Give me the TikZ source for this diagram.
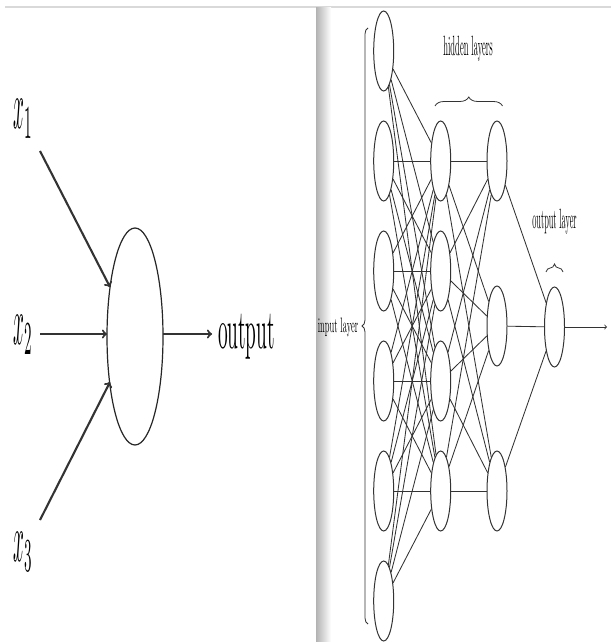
\documentclass[tikz,border=0pt]{standalone}
\usetikzlibrary{shapes.geometric,decorations.pathreplacing,arrows}
\begin{document}
\begin{tikzpicture}[x=1bp,y=-1bp,
  neuron/.style={ellipse,draw=black!80,line width=1bp,minimum width=20bp,minimum height=80bp,inner sep=0pt},
  bigcell/.style={ellipse,draw=black!85,line width=1.2bp,minimum width=56bp,minimum height=217bp,inner sep=0pt},
  edge/.style={draw=black!80,line width=0.85bp},
  thickarrow/.style={draw=black!80,line width=2.1bp,->,>=to},
  lbl/.style={inner sep=0pt},
  bracestyle/.style={draw=black!80,line width=0.8bp,decorate}]
\useasboundingbox[fill=white] (0,0) rectangle (611,642);
% frame details
\draw[black!15,line width=1.2bp] (5,7) -- (611,7);
\shade[left color=black!30,right color=white] (316,7.6) rectangle (331,642);
% ---------- left: perceptron ----------
\node[bigcell] (P) at (135,336.5) {};
\node[lbl] (X1) at (23,119) {\scalebox{1.9}[6.8]{$x_1$}};
\node[lbl] (X2) at (23,335) {\scalebox{1.9}[6.8]{$x_2$}};
\node[lbl] (X3) at (23,552) {\scalebox{1.9}[6.8]{$x_3$}};
\node[lbl] (OUT) at (246.5,337) {\scalebox{1.94}[5.6]{output}};
\coordinate (a1) at (40,151);
\coordinate (a2) at (40,334);
\coordinate (a3) at (40,520);
\coordinate (t1) at (110,287);
\coordinate (t2) at (107,334);
\coordinate (t3) at (110,382);
\coordinate (o1) at (163,334);
\coordinate (o2) at (212,334);
\draw[thickarrow] (a1) -- (t1);
\draw[thickarrow] (a2) -- (t2);
\draw[thickarrow] (a3) -- (t3);
\draw[thickarrow] (o1) -- (o2);
% ---------- right: network ----------
\foreach \i/\y in {1/51,2/161,3/271,4/381,5/491,6/601}
  \node[neuron] (I\i) at (383.7,\y) {};
\foreach \i/\y in {1/161,2/271,3/381,4/491}
  \node[neuron] (H\i) at (440.7,\y) {};
\foreach \i/\y in {1/161,2/326,3/491}
  \node[neuron] (G\i) at (497,\y) {};
\node[neuron] (O) at (554.5,327) {};
\foreach \i in {1,...,6}
  \foreach \j in {1,...,4}
    \draw[edge] (I\i) -- (H\j);
\foreach \i in {1,...,4}
  \foreach \j in {1,...,3}
    \draw[edge] (H\i) -- (G\j);
\foreach \i in {1,...,3}
  \draw[edge] (G\i) -- (O);
\coordinate (oend) at (607,327);
\draw[edge,->,>=to] (O) -- (oend);
% labels and braces
\node[lbl] (HL) at (468,49) {\scalebox{0.86}[2.8]{hidden layers}};
\node[lbl] (OL) at (554.5,222) {\scalebox{0.83}[2.8]{output layer}};
\node[lbl] (IL) at (338,327) {\scalebox{0.85}[2.1]{input layer}};
\coordinate (hb1) at (435,106);
\coordinate (hb2) at (502.5,106);
\coordinate (ob1) at (546,272);
\coordinate (ob2) at (563,272);
\coordinate (ib1) at (368,624);
\coordinate (ib2) at (368,28);
\draw[bracestyle,decoration={brace,amplitude=9bp}] (hb1) -- (hb2);
\draw[bracestyle,decoration={brace,amplitude=8bp}] (ob1) -- (ob2);
\draw[bracestyle,decoration={brace,amplitude=6bp}] (ib1) -- (ib2);
\end{tikzpicture}
\end{document}
